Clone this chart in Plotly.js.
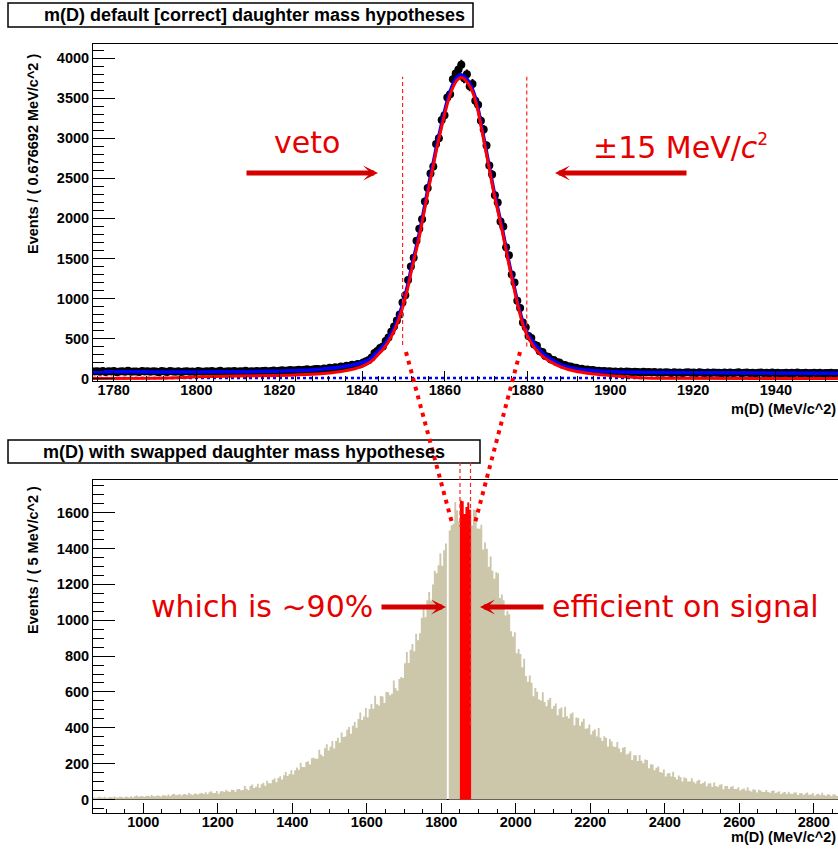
<!DOCTYPE html>
<html>
<head>
<meta charset="utf-8">
<script src="https://cdn.plot.ly/plotly-3.0.1.min.js"></script>
<style>html,body{margin:0;padding:0;background:#fff;}#chart{width:838px;height:849px;}</style>
</head>
<body>
<div id="chart"></div>
<script>
// ---------- DATA ----------
// Top panel: m(D) with correct daughter mass hypotheses, 266 bins of 0.676692 MeV from 1775
const topStart = 1775;
const topBinWidth = 0.676692;
const topCounts = [
  88,92,84,95,81,90,86,93,79,88,91,85,97,83,89,86,80,94,87,90,
  84,91,86,78,93,88,82,95,87,84,90,81,89,92,85,88,80,94,86,83,
  90,87,93,84,88,96,82,89,91,86,94,85,90,88,97,84,92,89,95,87,
  93,98,88,95,101,92,97,103,96,100,106,99,104,110,102,108,114,107,112,118,
  120,110,126,118,133,124,140,131,150,142,160,152,171,163,182,178,200,214,231,262,
  318,345,380,400,470,512,585,650,725,800,950,1040,1230,1400,1510,1720,1870,1990,2210,2380,
  2560,2650,2930,3000,3230,3290,3510,3550,3740,3810,3860,3920,3750,3800,3650,3680,3470,3420,3220,3110,
  2910,2660,2550,2290,2200,1960,1900,1640,1540,1300,1200,970,880,700,640,530,505,425,410,340,
  330,282,272,238,232,205,200,176,170,152,150,136,135,121,122,110,113,103,105,96,
  98,90,95,87,92,84,89,81,88,79,86,83,77,85,80,76,84,78,82,75,
  80,73,78,71,77,74,70,79,72,76,69,75,78,71,74,68,77,72,70,75,
  69,76,71,73,67,75,70,74,68,72,77,66,71,74,69,73,67,72,75,68,
  71,66,74,69,72,65,70,73,67,71,68,74,66,70,72,65,69,73,67,71,64,70,68,72,66,69
];
// Fit curves
const totalFitX = [1775,1780,1790,1800,1810,1815,1820,1825,1830,1833,1836,1838,1840,1842,1843,1844,1845,1846,1847,1848,1849,1850,1851,1852,1853,1854,1855,1856,1857,1858,1859,1860,1861,1862,1863,1864,1865,1866,1867,1868,1869,1870,1871,1872,1873,1874,1875,1876,1877,1878,1879,1880,1881,1882,1883,1884,1885,1886,1888,1890,1892,1895,1898,1902,1910,1920,1935,1955];
const totalFitY = [85,84,82,82,84,87,92,100,115,130,152,172,200,245,300,345,400,470,560,660,800,960,1160,1400,1620,1850,2120,2390,2640,2900,3130,3350,3540,3680,3770,3795,3760,3690,3570,3380,3120,2850,2580,2310,2080,1840,1580,1330,1090,870,680,560,480,410,350,300,265,230,175,142,120,102,90,82,76,73,70,67];
const signalFitX = [1775,1790,1797,1800,1810,1820,1825,1830,1835,1838,1840,1842,1843,1844,1845,1846,1847,1848,1849,1850,1851,1852,1853,1854,1855,1856,1857,1858,1859,1860,1861,1862,1863,1864,1865,1866,1867,1868,1869,1870,1871,1872,1873,1874,1875,1876,1877,1878,1879,1880,1882,1884,1886,1888,1890,1893,1896,1900,1904,1907,1910,1955];
const signalFitY = [0,3,12,22,30,38,46,60,88,118,150,205,250,305,360,430,520,620,760,920,1120,1360,1580,1810,2080,2350,2600,2860,3090,3310,3500,3640,3730,3760,3725,3655,3540,3350,3090,2820,2550,2280,2050,1810,1550,1300,1060,840,650,530,360,260,195,145,110,78,56,36,20,8,2,0];
const bkgFitX = [1775,1908];
const bkgFitY = [6,6];
// Veto window: +-15 MeV around the D mass
const dMass = 1864.8;
const vetoHalf = 15;

// Bottom panel: m(D) with swapped daughter mass hypotheses, 400 bins of 5 MeV from 865
const botStart = 865;
const botBinWidth = 5;
const botCounts = [
  13,9,12,15,11,12,15,8,13,14,11,17,12,11,15,14,10,16,15,12,
  18,12,18,22,15,18,20,14,20,21,17,25,19,18,22,21,17,24,24,20,
  28,20,28,32,24,25,31,22,30,31,26,36,29,26,34,33,28,35,36,31,
  41,30,41,46,37,37,47,33,45,48,42,54,46,42,55,53,44,57,59,52,
  53,76,60,52,75,84,65,71,88,66,86,93,77,105,91,91,110,117,96,120,
  130,112,135,154,132,142,164,140,163,179,166,205,182,182,209,213,196,231,233,227,
  228,278,251,241,286,308,274,295,326,284,327,344,317,374,349,351,389,405,367,412,
  433,401,449,486,444,463,511,459,505,533,506,579,531,525,578,575,538,600,599,582,
  590,664,621,607,672,684,678,760,823,761,836,867,827,924,889,928,1012,1073,1016,1111,
  1158,1108,1199,1276,1262,1306,1372,1304,1390,1428,0,1500,1530,1538,1660,1614,1554,1668,1664,1592,
  1632,1656,1616,1528,1618,1616,1512,1510,1532,1394,1434,1398,1298,1356,1276,1232,1268,1262,1124,1144,
  1112,1027,1051,1034,938,909,933,816,840,812,738,785,689,657,692,651,576,622,601,558,
  552,598,544,520,556,568,506,521,536,470,507,514,459,517,464,453,478,486,414,458,
  455,411,434,451,395,398,418,363,383,392,351,399,345,327,353,344,296,338,324,296,
  293,321,285,264,289,293,251,257,269,220,247,247,215,249,217,203,223,221,175,197,
  195,163,178,185,154,150,167,129,145,148,128,155,126,112,134,125,101,124,119,100,
  101,119,99,89,105,110,87,92,101,74,90,91,71,95,75,70,83,85,58,75,
  75,60,70,75,59,59,69,50,58,62,51,68,51,45,57,54,40,54,51,42,
  42,53,42,38,47,50,37,41,46,31,40,42,31,44,34,31,39,40,26,35,
  37,26,34,39,27,28,36,21,29,32,24,38,25,21,30,28,18,29,27,20
];

// ---------- GEOMETRY HELPERS (pixel -> paper) ----------
const W = 838, H = 849;
const px = v => v / W;
const py = v => 1 - v / H;

// ---------- TRACES ----------
const topX = topCounts.map((_, i) => topStart + topBinWidth * (i + 0.5));
const topErr = topCounts.map(v => Math.sqrt(v));

const botEdges = botCounts.map((_, i) => botStart + botBinWidth * i);
const stepX = botEdges.concat([botStart + botBinWidth * botCounts.length]);
const stepY = botCounts.concat([botCounts[botCounts.length - 1]]);
const vLo = dMass - vetoHalf, vHi = dMass + vetoHalf;
const redX = [], redY = [];
botCounts.forEach((v, i) => {
  const lo = botEdges[i], hi = lo + botBinWidth;
  if (lo >= Math.floor(vLo) && hi <= Math.ceil(vHi)) { redX.push(lo); redY.push(v); }
});
if (redX.length) { redX.push(redX[redX.length - 1] + botBinWidth); redY.push(redY[redY.length - 1]); }

const tan = '#ccc6aa';
const traces = [
  {x: stepX, y: stepY, type: 'scatter', mode: 'lines', line: {shape: 'hv', width: 0, color: tan},
   fill: 'tozeroy', fillcolor: tan, xaxis: 'x2', yaxis: 'y2', hoverinfo: 'skip'},
  {x: redX, y: redY, type: 'scatter', mode: 'lines', line: {shape: 'hv', width: 0, color: '#ff0000'},
   fill: 'tozeroy', fillcolor: '#ff0000', xaxis: 'x2', yaxis: 'y2', hoverinfo: 'skip'},
  {x: bkgFitX, y: bkgFitY, type: 'scatter', mode: 'lines', line: {color: '#0000ff', width: 2.5, dash: 'dot'}, xaxis: 'x', yaxis: 'y'},
  {x: topX, y: topCounts, type: 'scatter', mode: 'markers', marker: {color: '#000', size: 8, symbol: 'circle'},
   error_y: {type: 'data', array: topErr, color: '#000', thickness: 2, width: 0}, xaxis: 'x', yaxis: 'y'},
  {x: totalFitX, y: totalFitY, type: 'scatter', mode: 'lines', line: {color: '#0000ff', width: 3.5, shape: 'spline', smoothing: 0.6}, xaxis: 'x', yaxis: 'y'},
  {x: signalFitX, y: signalFitY, type: 'scatter', mode: 'lines', line: {color: '#ff0000', width: 3, shape: 'spline', smoothing: 0.6}, xaxis: 'x', yaxis: 'y'}
];

// ---------- LAYOUT ----------
const tickFont = {family: 'Liberation Sans, Arial, sans-serif', size: 14.5, color: '#000', weight: 'bold'};
const axisCommon = {
  showgrid: false, zeroline: false, showline: true, linecolor: '#000', linewidth: 1,
  ticks: 'inside', tickcolor: '#000', tickwidth: 1, tickfont: tickFont, fixedrange: true
};
const layout = {
  width: W, height: H, margin: {l: 0, r: 0, t: 0, b: 0},
  paper_bgcolor: '#fff', plot_bgcolor: '#fff', showlegend: false,
  xaxis: Object.assign({}, axisCommon, {domain: [px(93), 1], range: [1775, 1955], anchor: 'y',
    dtick: 20, tick0: 1780, ticklen: 10, mirror: true, ticklabelstandoff: -4,
    minor: {dtick: 4, ticklen: 5, ticks: 'inside', tickcolor: '#000'}}),
  yaxis: Object.assign({}, axisCommon, {domain: [py(380.5), py(44)], range: [-25, 4179], anchor: 'x',
    dtick: 500, tick0: 0, ticklen: 22,
    minor: {dtick: 100, ticklen: 11, ticks: 'inside', tickcolor: '#000'}}),
  xaxis2: Object.assign({}, axisCommon, {domain: [px(93), 1], range: [865, 2865], anchor: 'y2',
    dtick: 200, tick0: 1000, ticklen: 10, mirror: true, ticklabelstandoff: -4,
    minor: {dtick: 50, ticklen: 4, ticks: 'inside', tickcolor: '#000'}}),
  yaxis2: Object.assign({}, axisCommon, {domain: [py(813), py(480)], range: [-75, 1782], anchor: 'x2',
    dtick: 200, tick0: 0, ticklen: 22, zeroline: true, zerolinecolor: '#000', zerolinewidth: 1.5,
    minor: {dtick: 50, ticklen: 11, ticks: 'inside', tickcolor: '#000'}}),
  shapes: [
    // title boxes
    {type: 'rect', xref: 'paper', yref: 'paper', x0: px(8), x1: px(473), y0: py(27), y1: py(3), line: {color: '#000', width: 1.5}, fillcolor: '#fff'},
    {type: 'rect', xref: 'paper', yref: 'paper', x0: px(8), x1: px(480), y0: py(463), y1: py(440), line: {color: '#000', width: 1.5}, fillcolor: '#fff'},
    // veto window edges (top panel)
    {type: 'line', xref: 'x', yref: 'y', x0: vLo, x1: vLo, y0: 420, y1: 3770, line: {color: '#ff2020', width: 1.2, dash: '4px,3px'}},
    {type: 'line', xref: 'x', yref: 'y', x0: vHi, x1: vHi, y0: 400, y1: 3770, line: {color: '#ff2020', width: 1.2, dash: '4px,3px'}},
    // connectors between panels
    {type: 'line', xref: 'paper', yref: 'paper', x0: px(406), y0: py(352), x1: px(452), y1: py(523), line: {color: '#ff0000', width: 4, dash: '4px,5px'}},
    {type: 'line', xref: 'paper', yref: 'paper', x0: px(520), y0: py(352), x1: px(475), y1: py(523), line: {color: '#ff0000', width: 4, dash: '4px,5px'}},
    // window edges in bottom panel
    {type: 'line', xref: 'paper', yref: 'paper', x0: px(460), x1: px(460), y0: py(462), y1: py(527), line: {color: '#ff2020', width: 1.2, dash: '4px,3px'}},
    {type: 'line', xref: 'paper', yref: 'paper', x0: px(470.5), x1: px(470.5), y0: py(462), y1: py(727), line: {color: '#ff2020', width: 1.2, dash: '4px,3px'}}
  ],
  annotations: []
};

const boldFont = (s) => ({family: 'Liberation Sans, Arial, sans-serif', size: s, color: '#000', weight: 'bold'});
const redFont = {family: 'DejaVu Sans, sans-serif', size: 30, color: '#e60000'};
const A = layout.annotations;
// panel titles
A.push({xref: 'paper', yref: 'paper', x: px(254), y: py(15), text: 'm(D) default [correct] daughter mass hypotheses', showarrow: false, font: boldFont(18), xanchor: 'center', yanchor: 'middle'});
A.push({xref: 'paper', yref: 'paper', x: px(244), y: py(452), text: 'm(D) with swapped daughter mass hypotheses', showarrow: false, font: boldFont(18), xanchor: 'center', yanchor: 'middle'});
// axis titles
A.push({xref: 'paper', yref: 'paper', x: px(33), y: py(154), text: 'Events / ( 0.676692 MeV/c^2 )', textangle: -90, showarrow: false, font: boldFont(14.5), xanchor: 'center', yanchor: 'middle'});
A.push({xref: 'paper', yref: 'paper', x: px(33), y: py(560), text: 'Events / ( 5 MeV/c^2 )', textangle: -90, showarrow: false, font: boldFont(14.5), xanchor: 'center', yanchor: 'middle'});
A.push({xref: 'paper', yref: 'paper', x: px(838), y: py(409), text: 'm(D) (MeV/c^2)', showarrow: false, font: boldFont(14.5), xanchor: 'right', yanchor: 'middle'});
A.push({xref: 'paper', yref: 'paper', x: px(838), y: py(837), text: 'm(D) (MeV/c^2)', showarrow: false, font: boldFont(14.5), xanchor: 'right', yanchor: 'middle'});
// red notes
A.push({xref: 'paper', yref: 'paper', x: px(307), y: py(143), text: 'veto', showarrow: false, font: redFont, xanchor: 'center', yanchor: 'middle'});
A.push({xref: 'paper', yref: 'paper', x: px(680), y: py(147), text: '±15 MeV/<i>c</i><sup><span style="font-size:17px">2</span></sup>', showarrow: false, font: redFont, xanchor: 'center', yanchor: 'middle'});
A.push({xref: 'paper', yref: 'paper', x: px(262), y: py(606), text: 'which is ~90%', showarrow: false, font: redFont, xanchor: 'center', yanchor: 'middle'});
A.push({xref: 'paper', yref: 'paper', x: px(685), y: py(606), text: 'efficient on signal', showarrow: false, font: redFont, xanchor: 'center', yanchor: 'middle'});
// arrows
const arrow = (hx, hy, dx) => ({xref: 'paper', yref: 'paper', x: px(hx), y: py(hy), ax: dx, ay: 0, axref: 'pixel', ayref: 'pixel',
  text: '', showarrow: true, arrowhead: 3, arrowsize: 0.5, arrowwidth: 5, arrowcolor: '#d40000'});
A.push(arrow(378, 173, -133));
A.push(arrow(555, 173, 133));
A.push(arrow(446, 607, -66));
A.push(arrow(480, 607, 65));

Plotly.newPlot('chart', traces, layout, {staticPlot: true, displayModeBar: false});
</script>
</body>
</html>
